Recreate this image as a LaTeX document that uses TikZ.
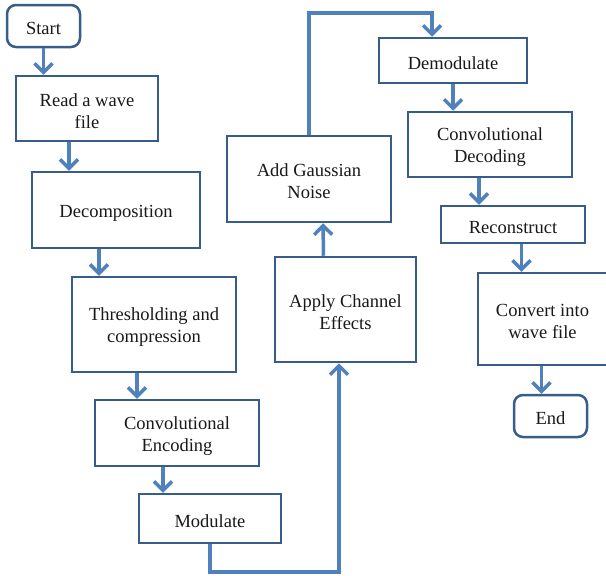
\documentclass[tikz,border=0pt]{standalone}
\usepackage{fontspec}
\setmainfont{Liberation Serif}
\usetikzlibrary{arrows.meta}
\definecolor{boxline}{HTML}{385D8A}
\definecolor{connline}{HTML}{4F81BD}
\begin{document}
\begin{tikzpicture}[x=1pt,y=-1pt,
  box/.style={draw=boxline,line width=2.5pt,fill=white,inner sep=0pt,align=center,
    text height=18pt,font=\fontsize{18.5}{22}\selectfont,text=black!90},
  box2/.style={box,text height=40pt},
  term/.style={box,rounded corners=9pt},
  conn/.style={draw=connline,line width=3.5pt,
    -{Straight Barb[length=9pt,width=18pt,line width=3.5pt]}}]
\useasboundingbox (0,0) rectangle (606,576);
\node[term,minimum width=73,minimum height=42] (start) at (43.5,26) {Start};
\node[box2,minimum width=142,minimum height=65] (read) at (87,108.5) {Read a wave\\file};
\node[box,minimum width=168,minimum height=76] (decomp) at (116,210) {Decomposition};
\node[box2,minimum width=164,minimum height=95] (thresh) at (154,324.5) {Thresholding and\\compression};
\node[box2,minimum width=164,minimum height=66] (enc) at (177,433) {Convolutional\\Encoding};
\node[box,minimum width=142,minimum height=49] (mod) at (210,518.5) {Modulate};
\node[box2,minimum width=141,minimum height=105] (chan) at (345.5,309.5) {Apply Channel\\Effects};
\node[box2,minimum width=164,minimum height=86] (noise) at (309,179) {Add Gaussian\\Noise};
\node[box,minimum width=148,minimum height=45] (demod) at (453,60.5) {Demodulate};
\node[box2,minimum width=164,minimum height=65] (dec) at (490,144.5) {Convolutional\\Decoding};
\node[box,minimum width=144,minimum height=37] (recon) at (513,224.5) {Reconstruct};
\node[box2,minimum width=129,minimum height=92] (conv) at (542.5,319) {Convert into\\wave file};
\node[term,minimum width=73,minimum height=42] (end) at (550.5,416) {End};
\coordinate (m1) at (210,572);
\coordinate (m2) at (339,572);
\coordinate (n1) at (309,13);
\coordinate (n2) at (432,13);
\draw[conn] (start.south) -- (read.north -| start.south);
\draw[conn] ([xshift=-18pt]read.south) -- ([xshift=-47pt]decomp.north);
\draw[conn] ([xshift=-17pt]decomp.south) -- ([xshift=-55pt]thresh.north);
\draw[conn] ([xshift=-17pt]thresh.south) -- ([xshift=-40pt]enc.north);
\draw[conn] ([xshift=-14pt]enc.south) -- ([xshift=-47pt]mod.north);
\draw[conn] (mod.south) -- (m1) -- (m2) -- ([xshift=-6.5pt]chan.south);
\draw[conn] ([xshift=-22pt]chan.north) -- ([xshift=14pt]noise.south);
\draw[conn] (noise.north) -- (n1) -- (n2) -- ([xshift=-21pt]demod.north);
\draw[conn] (demod.south) -- ([xshift=-37pt]dec.north);
\draw[conn] ([xshift=-11pt]dec.south) -- ([xshift=-34pt]recon.north);
\draw[conn] ([xshift=8.5pt]recon.south) -- ([xshift=-21pt]conv.north);
\draw[conn] ([xshift=-1pt]conv.south) -- ([xshift=-9pt]end.north);
\end{tikzpicture}
\end{document}
